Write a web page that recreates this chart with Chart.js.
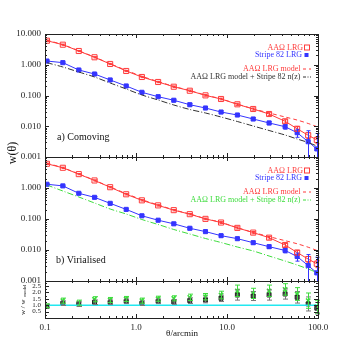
<!DOCTYPE html>
<html>
<head>
<meta charset="utf-8">
<script src="https://cdn.jsdelivr.net/npm/chart.js@4"></script>
<style>
  html, body { margin: 0; padding: 0; background: #fff; }
  #wrap { width: 354px; height: 354px; }
</style>
</head>
<body>
<div id="wrap"><canvas id="wtheta" width="354" height="354"></canvas></div>
<script>
// separations (arcmin)
const theta = [0.105, 0.157, 0.235, 0.35, 0.52, 0.78, 1.16, 1.75, 2.6, 3.9, 5.8, 8.6, 13, 19.4, 29, 43.5, 59, 78, 97];

// AAOmega LRG w(theta) and errors
const wAAO = [6.05, 4.49, 2.8, 1.75, 1.06, 0.627, 0.4, 0.275, 0.193, 0.143, 0.101, 0.077, 0.0517, 0.0364, 0.025, 0.0145, 0.0083, 0.0051, 0.0036];
const errAAO = [0.3, 0.2, 0.12, 0.08, 0.05, 0.03, 0.02, 0.014, 0.01, 0.008, 0.006, 0.005, 0.004, 0.003, 0.0025, 0.0018, 0.0014, 0.0011, 0.0009];

// Stripe 82 LRG w(theta) and errors
const wS82 = [1.32, 1.17, 0.675, 0.5, 0.32, 0.204, 0.127, 0.0914, 0.07, 0.0502, 0.0392, 0.029, 0.0232, 0.0172, 0.0128, 0.00966, 0.00617, 0.00314, 0.00183];
const errS82 = [0.08, 0.06, 0.04, 0.03, 0.02, 0.012, 0.008, 0.006, 0.005, 0.004, 0.003, 0.0025, 0.002, 0.0018, 0.0016, 0.0016, 0.0018, 0.004, 0.004];

// models
const modelAAO = [6.3, 4.5, 2.85, 1.78, 1.08, 0.66, 0.42, 0.285, 0.198, 0.145, 0.103, 0.078, 0.0525, 0.037, 0.027, 0.02, 0.0159, 0.0123, 0.0097];
const modelComoving = [1.166, 0.845, 0.581, 0.4, 0.255, 0.163, 0.104, 0.0714, 0.0491, 0.0351, 0.027, 0.02, 0.01427, 0.01018, 0.00727, 0.00519, 0.00385, 0.00296, 0.00228];
const modelVirialised = [1.25, 0.8, 0.513, 0.328, 0.21, 0.145, 0.0964, 0.0665, 0.0459, 0.0328, 0.0235, 0.01746, 0.0125, 0.0093, 0.0064, 0.00441, 0.00328, 0.00244, 0.00188];

// w / w_model
const ratioVir = [0.95, 1.36, 1.2, 1.47, 1.41, 1.49, 1.36, 1.51, 1.54, 1.62, 1.67, 1.8, 2.13, 1.93, 2.13, 2.24, 1.88, 1.36, 0.89];
const errRatioVir = [0.15, 0.2, 0.2, 0.2, 0.2, 0.2, 0.2, 0.2, 0.2, 0.25, 0.25, 0.3, 0.45, 0.4, 0.45, 0.45, 0.5, 0.6, 0.5];
const ratioCom = [0.92, 1.16, 1.08, 1.23, 1.23, 1.31, 1.16, 1.31, 1.26, 1.36, 1.41, 1.54, 1.8, 1.72, 1.8, 1.88, 1.62, 1.1, 0.77];
const errRatioCom = [0.12, 0.18, 0.18, 0.18, 0.18, 0.18, 0.18, 0.18, 0.18, 0.22, 0.22, 0.25, 0.4, 0.35, 0.4, 0.4, 0.45, 0.55, 0.45];
const unity = [1, 1];
const unityX = [0.1, 100];

const xTicks = [0.1, 1, 10, 100];
const wTicks = [0.001, 0.01, 0.1, 1, 10];
const ratioTicks = [0.5, 1.0, 1.5, 2.0, 2.5];

const RED = '#ff3b3b', BLUE = '#3535ff', GREEN = '#3ddc3d', DARK = '#333', CYAN = '#22e8f0';
const SERIF = '"Liberation Serif", "DejaVu Serif", serif';

const pts = (xs, ys) => xs.map((x, i) => ({ x: x, y: ys[i] }));

function panelSets(yId, secondModel, secondColor) {
    return [
        { data: pts(theta, modelAAO), yAxisID: yId, borderColor: RED, borderWidth: 1, borderDash: [4, 3], pointRadius: 0, tension: 0.3 },
        { data: pts(theta, secondModel), yAxisID: yId, borderColor: secondColor, borderWidth: 1, borderDash: [6, 2, 1, 2], pointRadius: 0, tension: 0.3 },
        { data: pts(theta, wAAO), errors: errAAO, yAxisID: yId, borderColor: RED, borderWidth: 1, pointStyle: 'rect', pointRadius: 3.6,
          pointBorderColor: RED, pointBackgroundColor: 'rgba(0,0,0,0)', pointBorderWidth: 1 },
        { data: pts(theta, wS82), errors: errS82, yAxisID: yId, borderColor: BLUE, borderWidth: 1, pointStyle: 'rect', pointRadius: 2.9,
          pointBorderColor: BLUE, pointBackgroundColor: BLUE, pointBorderWidth: 1 }
    ];
}

// error bars, clipped to the panel they belong to
const errorBars = {
    id: 'errorBars',
    afterDatasetsDraw(chart) {
        const ctx = chart.ctx, xs = chart.scales.x;
        chart.data.datasets.forEach((ds, di) => {
            if (!ds.errors) return;
            const ys = chart.scales[ds.yAxisID];
            const col = ds.errColor || ds.pointBorderColor || ds.borderColor;
            ctx.save();
            ctx.strokeStyle = col;
            ctx.lineWidth = 1;
            ds.data.forEach((p, i) => {
                const e = ds.errors[i];
                const lo = p.y - e, hi = p.y + e;
                const px = Math.round(xs.getPixelForValue(p.x)) + 0.5;
                let y1 = ys.getPixelForValue(hi);
                let y2 = lo > 0 ? ys.getPixelForValue(lo) : ys.bottom;
                y1 = Math.max(ys.top, y1); y2 = Math.min(ys.bottom, y2);
                ctx.beginPath();
                ctx.moveTo(px, y1); ctx.lineTo(px, y2);
                const cw = ds.capWidth || 2;
                if (y1 > ys.top) { ctx.moveTo(px - cw, y1); ctx.lineTo(px + cw, y1); }
                if (y2 < ys.bottom) { ctx.moveTo(px - cw, y2); ctx.lineTo(px + cw, y2); }
                ctx.stroke();
            });
            ctx.restore();
        });
    }
};

// panel frames with inward ticks on all sides
const frames = {
    id: 'frames',
    afterDraw(chart) {
        const ctx = chart.ctx, xs = chart.scales.x;
        const l = xs.left, r = xs.right;
        ctx.save();
        ctx.strokeStyle = '#222';
        ctx.lineWidth = 1;
        ['yTop', 'yMid', 'yRatio'].forEach(id => {
            const s = chart.scales[id];
            const t = s.top, b = s.bottom;
            ctx.strokeRect(Math.round(l) + 0.5, Math.round(t) + 0.5, Math.round(r - l), Math.round(b - t));
            ctx.beginPath();
            for (let d = -1; d <= 1; d++) {
                for (let m = 1; m <= 9; m++) {
                    const v = m * Math.pow(10, d);
                    const px = Math.round(xs.getPixelForValue(v)) + 0.5;
                    const len = m === 1 ? 4 : 2;
                    ctx.moveTo(px, b); ctx.lineTo(px, b - len);
                    ctx.moveTo(px, t); ctx.lineTo(px, t + len);
                }
            }
            if (s.type === 'logarithmic') {
                for (let d = -3; d <= 0; d++) {
                    for (let m = 1; m <= 9; m++) {
                        const v = m * Math.pow(10, d);
                        const py = Math.round(s.getPixelForValue(v)) + 0.5;
                        const len = m === 1 ? 4 : 2;
                        ctx.moveTo(l, py); ctx.lineTo(l + len, py);
                        ctx.moveTo(r, py); ctx.lineTo(r - len, py);
                    }
                }
            } else {
                for (let v = 0.25; v < 2.9; v += 0.25) {
                    const py = Math.round(s.getPixelForValue(v)) + 0.5;
                    const len = (Math.abs(v * 2 - Math.round(v * 2)) < 1e-6) ? 4 : 2;
                    ctx.moveTo(l, py); ctx.lineTo(l + len, py);
                    ctx.moveTo(r, py); ctx.lineTo(r - len, py);
                }
            }
            ctx.stroke();
        });
        ctx.restore();
    }
};

function legendBlock(ctx, top, lastText, lastColor) {
    const right = 303;
    ctx.font = '8px ' + SERIF;
    ctx.textAlign = 'right';
    ctx.textBaseline = 'middle';
    // AAO data
    ctx.fillStyle = RED;
    ctx.fillText('AAΩ LRG', right, top + 13.5);
    ctx.strokeStyle = RED; ctx.lineWidth = 1;
    ctx.strokeRect(304.5, top + 11, 5, 5);
    // Stripe 82
    ctx.fillStyle = BLUE;
    ctx.fillText('Stripe 82 LRG', right - 1, top + 21);
    ctx.fillRect(304.5, top + 19, 4, 4);
    // model
    ctx.fillStyle = RED;
    ctx.fillText('AAΩ LRG model', 300.5, top + 34.5);
    ctx.setLineDash([3, 3]);
    ctx.beginPath(); ctx.moveTo(303, top + 35); ctx.lineTo(311, top + 35); ctx.stroke();
    // model + n(z)
    ctx.fillStyle = lastColor;
    ctx.fillText(lastText, 300.5, top + 42.5);
    ctx.strokeStyle = lastColor;
    ctx.setLineDash([3, 1.5, 1, 1.5]);
    ctx.beginPath(); ctx.moveTo(303, top + 43); ctx.lineTo(311, top + 43); ctx.stroke();
    ctx.setLineDash([]);
}

const annotations = {
    id: 'annotations',
    afterDraw(chart) {
        const ctx = chart.ctx;
        const top = chart.scales.yTop.top, mid = chart.scales.yMid.top;
        ctx.save();
        legendBlock(ctx, top, 'AAΩ LRG model + Stripe 82 n(z)', DARK);
        legendBlock(ctx, mid, 'AAΩ LRG model + Stripe 82 n(z)', GREEN);

        ctx.fillStyle = '#111';
        ctx.textAlign = 'left';
        ctx.textBaseline = 'middle';
        ctx.font = '10px ' + SERIF;
        ctx.fillText('a) Comoving', 57, 137.5);
        ctx.fillText('b) Virialised', 56, 260.5);

        // x title
        ctx.textAlign = 'center';
        ctx.font = '9px ' + SERIF;
        ctx.fillText('θ/arcmin', 182, 334);

        // y titles
        ctx.save();
        ctx.translate(13, 153);
        ctx.rotate(-Math.PI / 2);
        ctx.font = '12px ' + SERIF;
        ctx.fillText('w(θ)', 0, 0);
        ctx.restore();

        ctx.save();
        ctx.translate(23, 300);
        ctx.rotate(-Math.PI / 2);
        ctx.textAlign = 'left';
        ctx.font = '7px ' + SERIF;
        ctx.fillText('w / w', -15, 0);
        ctx.font = '5px ' + SERIF;
        ctx.fillText('model', 3, 2);
        ctx.restore();
        ctx.restore();
    }
};

const logAxis = (stackWeight, hideTop) => ({
    type: 'logarithmic',
    position: 'left',
    stack: 'panels',
    stackWeight: stackWeight,
    min: 0.001,
    max: 10,
    grid: { display: false, drawTicks: false },
    border: { display: false },
    afterBuildTicks: s => { s.ticks = wTicks.map(v => ({ value: v })); },
    afterFit: s => { s.width = 45; },
    ticks: {
        padding: 4,
        autoSkip: false,
        color: '#222',
        font: { family: SERIF, size: 9 },
        callback: v => (hideTop && v === 10) ? '' : Number(v).toFixed(3)
    }
});

new Chart(document.getElementById('wtheta'), {
    type: 'line',
    data: {
        datasets: [
            ...panelSets('yTop', modelComoving, DARK),
            ...panelSets('yMid', modelVirialised, GREEN),
            { data: pts(unityX, unity), yAxisID: 'yRatio', borderColor: CYAN, borderWidth: 1.5, pointRadius: 0 },
            { data: pts(theta, ratioCom), errors: errRatioCom, errColor: '#777', capWidth: 2.5, yAxisID: 'yRatio', showLine: false,
              pointStyle: 'rect', pointRadius: 2.8, pointBackgroundColor: '#555', pointBorderColor: '#222', pointBorderWidth: 1 },
            { data: pts(theta, ratioVir), errors: errRatioVir, errColor: GREEN, capWidth: 2.5, yAxisID: 'yRatio', showLine: false,
              pointStyle: 'crossRot', pointRadius: 3, pointBorderColor: GREEN, pointBorderWidth: 1.6 }
        ]
    },
    options: {
        responsive: false,
        animation: false,
        layout: { padding: { left: 0, top: 34, right: 36, bottom: 0 } },
        plugins: { legend: { display: false }, tooltip: { enabled: false } },
        scales: {
            x: {
                type: 'logarithmic',
                min: 0.1,
                max: 100,
                grid: { display: false, drawTicks: false },
                border: { display: false },
                afterBuildTicks: s => { s.ticks = xTicks.map(v => ({ value: v })); },
                afterFit: s => { s.height = 36; },
                ticks: {
                    padding: 4,
                    autoSkip: false,
                    maxRotation: 0,
                    color: '#222',
                    font: { family: SERIF, size: 9 },
                    callback: v => Number(v).toFixed(1)
                }
            },
            // stacked left axes are laid out bottom-up, so the lowest panel comes first
            yRatio: {
                type: 'linear',
                position: 'left',
                stack: 'panels',
                stackWeight: 37,
                min: 0,
                max: 2.9,
                grid: { display: false, drawTicks: false },
                border: { display: false },
                afterBuildTicks: s => { s.ticks = ratioTicks.map(v => ({ value: v })); },
                afterFit: s => { s.width = 45; },
                ticks: {
                    padding: 4,
                    autoSkip: false,
                    color: '#222',
                    font: { family: SERIF, size: 7 },
                    callback: v => Number(v).toFixed(1)
                }
            },
            yMid: logAxis(124, true),
            yTop: logAxis(123, false)
        }
    },
    plugins: [errorBars, frames, annotations]
});
</script>
</body>
</html>
